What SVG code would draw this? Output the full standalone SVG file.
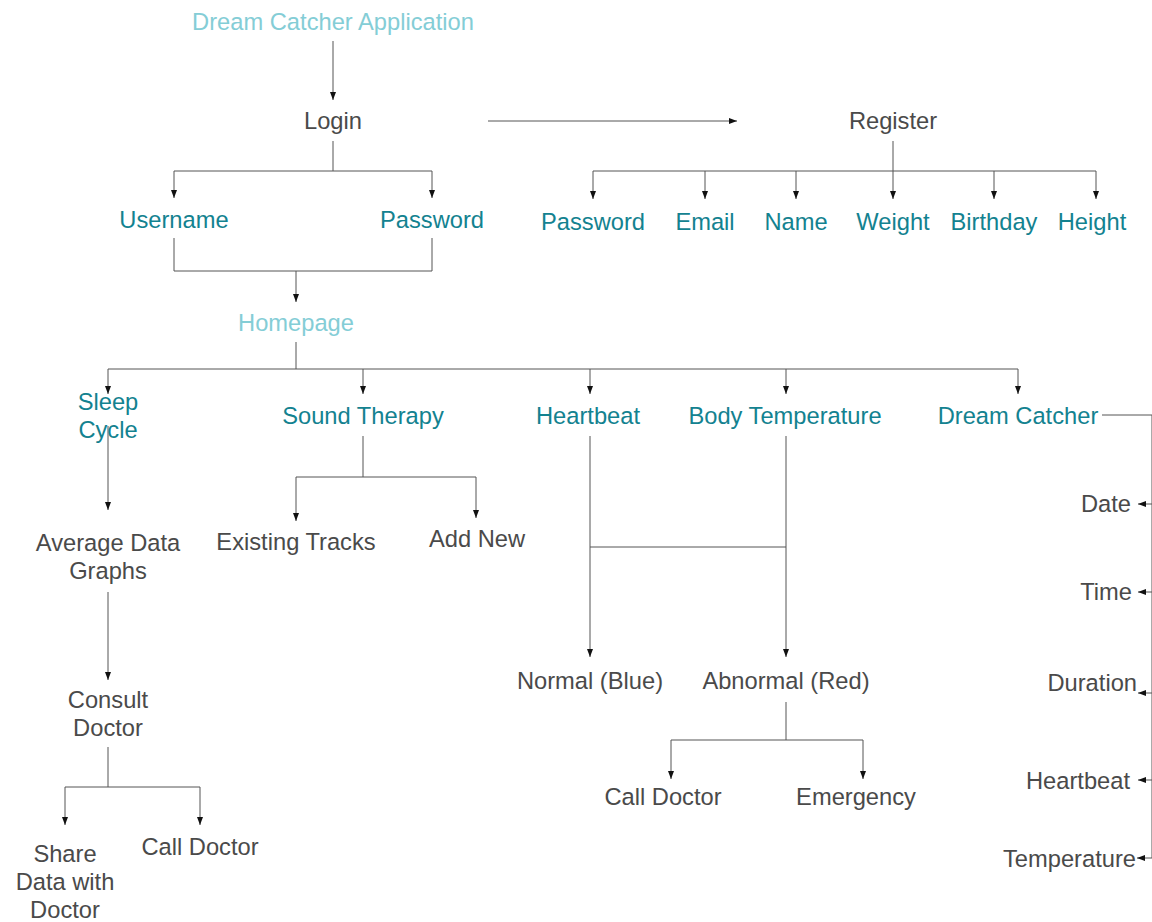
<svg xmlns="http://www.w3.org/2000/svg" width="1152" height="922" viewBox="0 0 1152 922">
<defs>
<marker id="ah" viewBox="0 0 8 6" markerWidth="8" markerHeight="6" refX="8" refY="3" orient="auto" markerUnits="userSpaceOnUse">
<path d="M0,0 L8,3 L0,6 z" fill="#111"/>
</marker>
<style>
text{font-family:"Liberation Sans",Arial,Helvetica,sans-serif;font-size:23.7px;text-anchor:middle}
.lt{fill:#84cdd6}
.tl{fill:#138290}
.gr{fill:#4a4a4a}
.e{text-anchor:end}
.c path{fill:none;stroke:#555;stroke-width:1}
.c .a{marker-end:url(#ah)}
</style>
</defs>
<rect width="1152" height="922" fill="#fff"/>
<g class="c" id="connectors">
<path class="a" d="M333,41 V100"/>
<path class="a" d="M333,141 V171 H174 V198"/>
<path class="a" d="M333,171 H432 V198"/>
<path class="a" d="M488,121 H737"/>
<path class="a" d="M893,141 V171 H593 V199"/>
<path class="a" d="M893,171 H1096 V199"/>
<path class="a" d="M705,171 V199"/>
<path class="a" d="M796,171 V199"/>
<path class="a" d="M893,171 V199"/>
<path class="a" d="M994,171 V199"/>
<path d="M174,238 V271 H432 V238"/>
<path class="a" d="M296,271 V302"/>
<path d="M296,342 V369"/>
<path class="a" d="M296,369 H108 V394"/>
<path class="a" d="M296,369 H1018 V394"/>
<path class="a" d="M363,369 V394"/>
<path class="a" d="M590,369 V394"/>
<path class="a" d="M786,369 V394"/>
<path class="a" d="M108,426 V510"/>
<path class="a" d="M363,436 V477 H296 V521"/>
<path class="a" d="M363,477 H476 V518"/>
<path class="a" d="M590,436 V657"/>
<path class="a" d="M786,436 V657"/>
<path d="M590,547 H786"/>
<path class="a" d="M786,702 V740 H671 V779"/>
<path class="a" d="M786,740 H863 V779"/>
<path class="a" d="M108,592 V680"/>
<path class="a" d="M108,747 V787 H65 V825"/>
<path class="a" d="M108,787 H200 V825"/>
<path d="M1102,415 H1152 V858"/>
<path class="a" d="M1152,504 H1138"/>
<path class="a" d="M1152,592 H1138"/>
<path class="a" d="M1152,693 H1138"/>
<path class="a" d="M1152,780 H1138"/>
<path class="a" d="M1152,858 H1137"/>
</g>
<g id="app"><text class="lt" x="333" y="30">Dream Catcher Application</text></g>
<g id="login"><text class="gr" x="333" y="129">Login</text></g>
<g id="register"><text class="gr" x="893" y="129">Register</text></g>
<g id="username"><text class="tl" x="174" y="228">Username</text></g>
<g id="password"><text class="tl" x="432" y="228">Password</text></g>
<g id="reg-password"><text class="tl" x="593" y="230">Password</text></g>
<g id="reg-email"><text class="tl" x="705" y="230">Email</text></g>
<g id="reg-name"><text class="tl" x="796" y="230">Name</text></g>
<g id="reg-weight"><text class="tl" x="893" y="230">Weight</text></g>
<g id="reg-birthday"><text class="tl" x="994" y="230">Birthday</text></g>
<g id="reg-height"><text class="tl" x="1092" y="230">Height</text></g>
<g id="homepage"><text class="lt" x="296" y="331">Homepage</text></g>
<g id="sleep-cycle"><text class="tl" x="108" y="410">Sleep</text><text class="tl" x="108" y="438">Cycle</text></g>
<g id="sound-therapy"><text class="tl" x="363" y="424">Sound Therapy</text></g>
<g id="heartbeat"><text class="tl" x="588" y="424">Heartbeat</text></g>
<g id="body-temperature"><text class="tl" x="785" y="424">Body Temperature</text></g>
<g id="dream-catcher"><text class="tl" x="1018" y="424">Dream Catcher</text></g>
<g id="average-data"><text class="gr" x="108" y="551">Average Data</text><text class="gr" x="108" y="579">Graphs</text></g>
<g id="existing-tracks"><text class="gr" x="296" y="550">Existing Tracks</text></g>
<g id="add-new"><text class="gr" x="477" y="547">Add New</text></g>
<g id="normal"><text class="gr" x="590" y="689">Normal (Blue)</text></g>
<g id="abnormal"><text class="gr" x="786" y="689">Abnormal (Red)</text></g>
<g id="call-doctor-2"><text class="gr" x="663" y="805">Call Doctor</text></g>
<g id="emergency"><text class="gr" x="856" y="805">Emergency</text></g>
<g id="consult-doctor"><text class="gr" x="108" y="708">Consult</text><text class="gr" x="108" y="736">Doctor</text></g>
<g id="share-data"><text class="gr" x="65" y="862">Share</text><text class="gr" x="65" y="890">Data with</text><text class="gr" x="65" y="918">Doctor</text></g>
<g id="call-doctor-1"><text class="gr" x="200" y="855">Call Doctor</text></g>
<g id="dc-date"><text class="gr e" x="1131" y="512">Date</text></g>
<g id="dc-time"><text class="gr e" x="1132" y="600">Time</text></g>
<g id="dc-duration"><text class="gr e" x="1137" y="691">Duration</text></g>
<g id="dc-heartbeat"><text class="gr e" x="1130" y="789">Heartbeat</text></g>
<g id="dc-temperature"><text class="gr e" x="1136" y="867">Temperature</text></g>
</svg>
